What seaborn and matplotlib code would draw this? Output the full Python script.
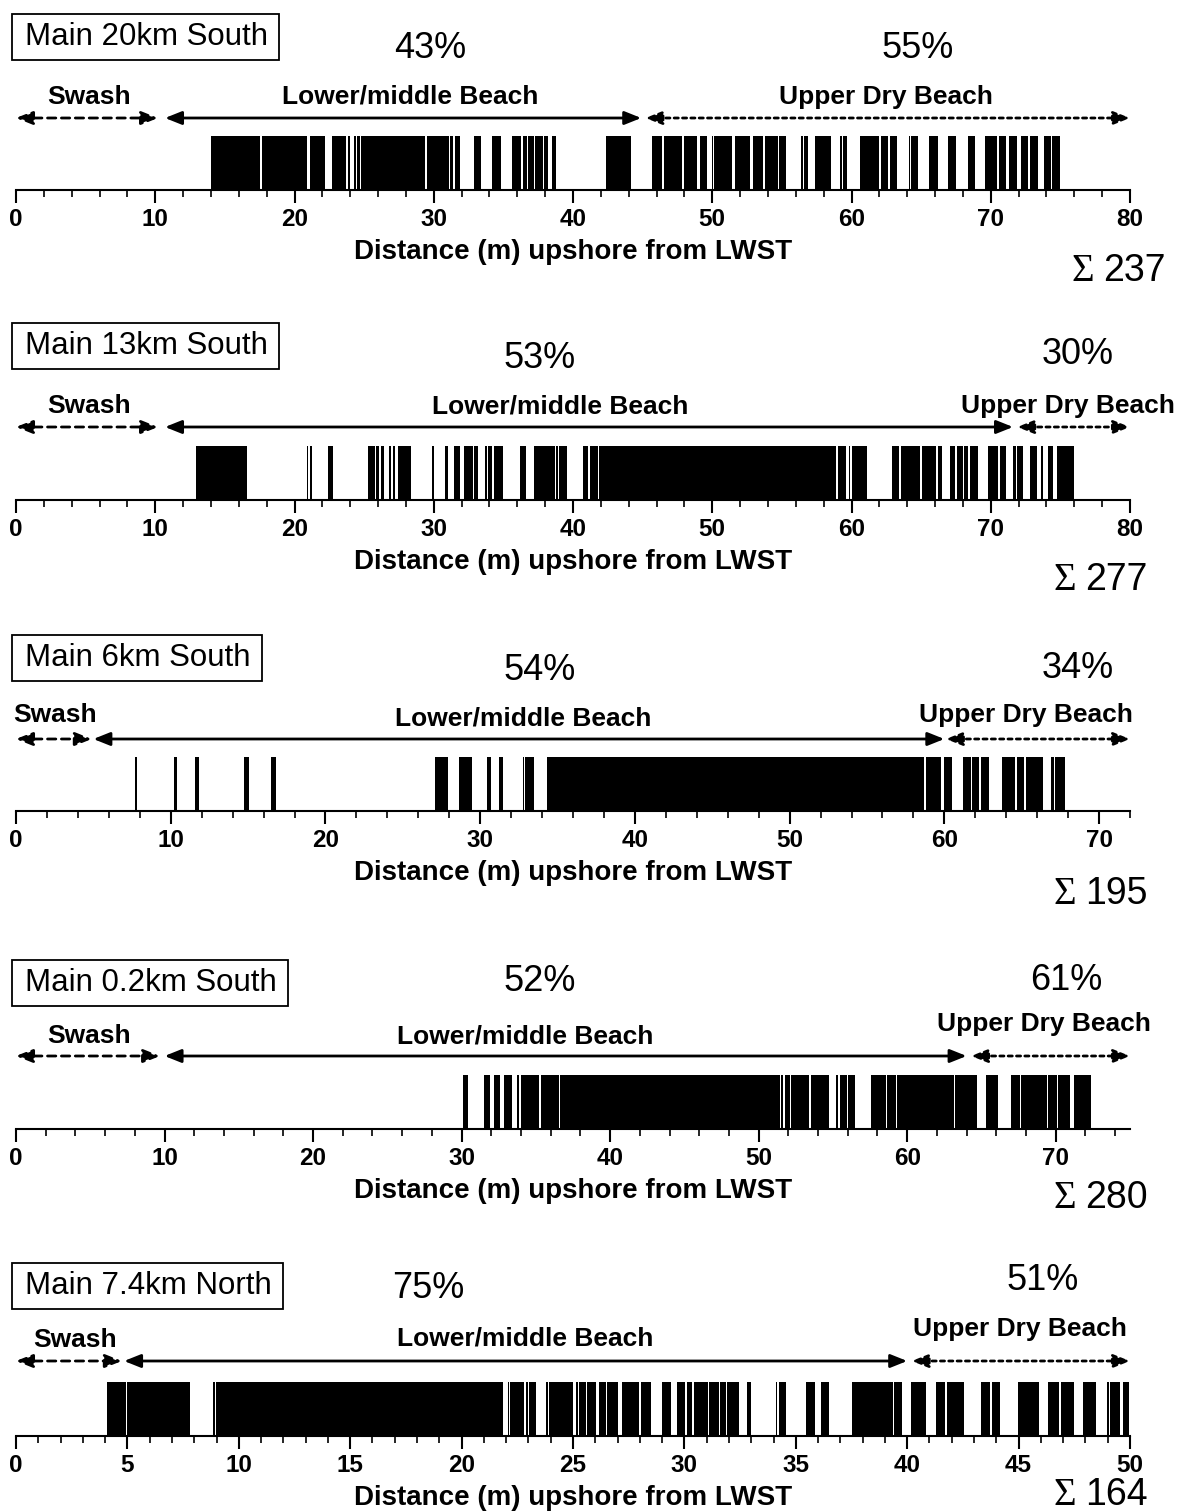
import matplotlib
matplotlib.use("Agg")
import matplotlib.pyplot as plt
import seaborn as sns
from matplotlib.patches import Rectangle
from matplotlib.ticker import MultipleLocator

# panel info
titles = ["Main 20km South", "Main 13km South", "Main 6km South",
          "Main 0.2km South", "Main 7.4km North"]
totals = [237, 277, 195, 280, 164]
lower_pct = ["43%", "53%", "54%", "52%", "75%"]
upper_pct = ["55%", "30%", "34%", "61%", "51%"]
x_max = [80, 80, 72, 75, 50]
major_step = [10, 10, 10, 10, 5]
minor_step = [2, 2, 2, 2, 1]

# zone limits (m)
swash_end = [10.2, 10.2, 4.9, 9.7, 4.75]
lower_start = [10.7, 10.7, 5.0, 10.0, 4.85]
lower_end = [44.9, 71.6, 60.0, 64.0, 40.0]
upper_start = [45.2, 71.9, 60.1, 64.3, 40.2]

# occupied stretches (start, end) in m
blocks_20s = [(14.0, 17.5), (17.7, 20.0), (20.05, 20.9), (21.1, 22.2), (22.7, 23.7),
              (23.85, 24.0), (24.3, 24.4), (24.5, 24.7), (24.8, 29.4), (29.5, 31.1),
              (31.15, 31.4), (31.5, 31.9), (32.9, 33.4), (34.2, 34.8), (35.65, 36.3),
              (36.4, 36.7), (36.8, 37.2), (37.3, 37.85), (37.95, 38.2), (38.5, 38.8),
              (42.35, 44.2), (45.7, 46.4), (46.5, 47.85), (48.0, 48.9), (49.1, 49.6),
              (50.0, 50.05), (50.1, 51.45), (51.6, 52.7), (52.9, 53.65), (53.8, 54.7),
              (54.8, 55.3), (56.4, 56.5), (56.6, 56.85), (57.35, 58.5), (59.2, 59.3),
              (59.4, 59.7), (60.6, 62.0), (62.1, 62.65), (62.8, 63.3), (64.1, 64.2),
              (64.3, 64.75), (65.6, 66.2), (66.9, 67.5), (68.4, 68.9), (69.6, 70.45),
              (70.6, 71.1), (71.3, 71.9), (72.2, 72.7), (72.85, 73.4), (73.85, 73.95),
              (74.0, 74.3), (74.4, 74.95)]
blocks_13s = [(12.9, 16.56), (20.9, 21.0), (21.1, 21.25), (22.4, 22.8), (25.3, 25.75),
              (25.85, 26.1), (26.2, 26.4), (26.8, 26.95), (27.1, 27.2), (27.4, 27.55),
              (27.6, 28.4), (29.9, 30.0), (30.8, 31.05), (31.45, 31.9), (32.2, 32.8),
              (32.9, 33.2), (33.65, 33.8), (33.9, 34.2), (34.3, 35.0), (36.2, 36.6),
              (37.2, 38.7), (38.8, 38.9), (39.0, 39.6), (40.7, 41.1), (41.2, 41.8),
              (41.9, 58.9), (59.05, 59.6), (59.8, 59.9), (60.05, 60.97), (61.0, 61.1),
              (62.9, 63.4), (63.55, 64.9), (65.05, 66.1), (66.2, 66.5), (67.05, 67.4),
              (67.6, 68.0), (68.1, 68.4), (68.5, 69.05), (69.8, 70.5), (70.65, 71.1),
              (71.6, 71.8), (71.9, 72.3), (72.8, 73.3), (73.6, 73.75), (74.1, 74.5),
              (74.75, 76.0)]
blocks_6s = [(7.7, 7.83), (10.2, 10.42), (11.58, 11.84), (14.73, 15.07), (16.5, 16.8),
             (27.1, 27.9), (28.65, 29.46), (30.46, 30.72), (31.23, 31.5), (32.74, 32.83),
             (32.87, 33.47), (34.3, 58.7), (58.8, 59.8), (59.95, 60.49), (61.2, 61.7),
             (61.8, 62.26), (62.35, 62.9), (63.7, 64.58), (64.7, 65.16), (65.3, 66.36),
             (66.9, 67.07), (67.16, 67.83)]
blocks_02s = [(30.1, 30.4), (31.48, 31.93), (32.15, 32.6), (32.87, 33.36), (33.7, 33.85),
              (34.0, 35.23), (35.37, 36.54), (36.6, 51.44), (51.5, 51.66), (51.75, 52.1),
              (52.2, 53.36), (53.5, 54.75), (55.23, 55.37), (55.46, 55.95), (56.04, 56.5),
              (57.56, 58.55), (58.64, 59.22), (59.3, 63.15), (63.25, 64.73), (65.3, 66.1),
              (66.96, 67.58), (67.68, 69.38), (69.5, 70.09), (70.18, 70.94), (71.2, 72.37)]
blocks_74n = [(4.1, 4.16), (4.19, 4.94), (5.0, 7.8), (8.85, 8.91), (8.97, 21.84),
              (22.08, 22.14), (22.17, 22.82), (22.88, 23.0), (23.03, 23.33), (23.78, 23.87),
              (23.93, 25.0), (25.15, 25.21), (25.27, 25.57), (25.63, 26.02), (26.17, 26.48),
              (26.54, 27.03), (27.18, 27.96), (28.05, 28.48), (29.0, 29.4), (29.65, 30.02),
              (30.1, 30.36), (30.45, 31.04), (31.1, 31.56), (31.62, 31.87), (31.93, 32.43),
              (32.8, 33.01), (34.09, 34.16), (34.24, 34.55), (35.48, 35.85), (36.13, 36.47),
              (37.5, 39.37), (39.4, 39.77), (40.17, 40.85), (41.3, 41.7), (41.8, 42.54),
              (43.3, 43.7), (43.8, 44.15), (44.98, 45.93), (46.34, 46.83), (46.9, 47.48),
              (47.9, 48.46), (48.99, 49.05), (49.1, 49.57), (49.7, 49.95)]
blocks = [blocks_20s, blocks_13s, blocks_6s, blocks_02s, blocks_74n]

# layout in pixels (figure is 1192 x 1511)
W, H = 1192, 1511
baseline_y = [190, 500, 811, 1129, 1436]
arrow_y = [118, 427, 739, 1056, 1361]
box_y = [37, 346, 658, 983, 1286]
pct_y = [(48, 48), (358, 355), (671, 668), (982, 980), (1288, 1281)]
pct_x = [(430, 918), (540, 1078), (540, 1078), (540, 1066), (428, 1043)]
zone_y = [(97, 97, 97), (406, 406, 406), (715, 718, 715), (1036, 1036, 1024),
          (1340, 1339, 1329)]
zone_x = [(89, 410, 886), (89, 560, 1068), (55, 523, 1026), (89, 525, 1044),
          (75, 525, 1020)]
sigma_x = [1094, 1076, 1076, 1076, 1076]
sigma_y = [281, 590, 904, 1208, 1505]

sns.set_style("ticks")
plt.rcParams['font.family'] = ['Liberation Sans', 'DejaVu Sans']
plt.rcParams.update({"text.color": "black", "axes.labelcolor": "black",
                     "xtick.color": "black", "axes.edgecolor": "black"})

fig = plt.figure(figsize=(W / 100, H / 100), dpi=100)


def fx(px):
    return px / W


def fy(py):
    return 1 - py / H


bar_h = 54
title_texts = []
for i in range(5):
    ax = fig.add_axes([fx(16), fy(baseline_y[i]), 1114 / W, bar_h / H])
    spans = [(a, b - a) for a, b in blocks[i]]
    ax.broken_barh(spans, (0, 1), facecolors="black", edgecolor="none")
    ax.set_xlim(0, x_max[i])
    ax.set_ylim(0, 1)
    ax.set_yticks([])
    sns.despine(ax=ax, left=True, right=True, top=True)
    ax.spines["bottom"].set_linewidth(1.5)
    ax.xaxis.set_major_locator(MultipleLocator(major_step[i]))
    ax.xaxis.set_minor_locator(MultipleLocator(minor_step[i]))
    ax.tick_params(axis="x", which="major", length=9, width=1.5,
                   labelsize=17.5, pad=4)
    ax.tick_params(axis="x", which="minor", length=5, width=1.2)
    for lab in ax.get_xticklabels():
        lab.set_fontweight("bold")
    ax.set_xlabel("Distance (m) upshore from LWST", fontsize=20,
                  fontweight="bold", labelpad=6)

    # zone arrows
    ay = (baseline_y[i] - arrow_y[i]) / bar_h
    tr = ax.get_xaxis_transform()
    zones = [(0, swash_end[i], (0, (3, 2))),
             (lower_start[i], lower_end[i], "-"),
             (upper_start[i], x_max[i], (0, (1.5, 1.5)))]
    for x0, x1, ls in zones:
        ax.annotate("", xy=(x1, ay), xytext=(x0, ay), xycoords=tr, textcoords=tr,
                    annotation_clip=False,
                    arrowprops=dict(arrowstyle="<|-|>,head_length=1.0,head_width=0.4",
                                    color="black", lw=2, linestyle=ls,
                                    shrinkA=0, shrinkB=0))

    # texts
    t = fig.text(fx(25), fy(box_y[i]), titles[i], fontsize=22.5, ha="left",
                 va="center")
    title_texts.append(t)
    for j, lab in enumerate(["Swash", "Lower/middle Beach", "Upper Dry Beach"]):
        fig.text(fx(zone_x[i][j]), fy(zone_y[i][j]), lab, fontsize=19,
                 fontweight="bold", ha="center", va="center")
    fig.text(fx(pct_x[i][0]), fy(pct_y[i][0]), lower_pct[i], fontsize=26,
             ha="center", va="center")
    fig.text(fx(pct_x[i][1]), fy(pct_y[i][1]), upper_pct[i], fontsize=26,
             ha="center", va="center")
    fig.text(fx(sigma_x[i]), fy(sigma_y[i]), "\u03a3", fontsize=28,
             family=["Liberation Serif"], ha="right", va="baseline")
    fig.text(fx(sigma_x[i] + 9), fy(sigma_y[i]), str(totals[i]), fontsize=27,
             ha="left", va="baseline")

# frame each station name, sized to its text
fig.canvas.draw()
renderer = fig.canvas.get_renderer()
for i, t in enumerate(title_texts):
    bb = t.get_window_extent(renderer)
    x0 = 12
    x1 = bb.x1 + 11
    fig.add_artist(Rectangle((fx(x0), fy(box_y[i] + 23)), (x1 - x0) / W, 46 / H,
                             transform=fig.transFigure, fill=False,
                             edgecolor="black", lw=1.3))

fig.savefig("out.png", dpi=100, facecolor="white")
